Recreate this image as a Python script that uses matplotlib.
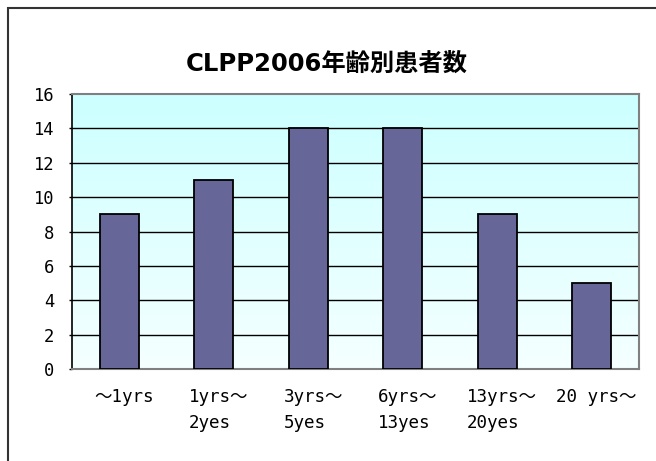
import numpy as np
import matplotlib
matplotlib.use("Agg")
import matplotlib.pyplot as plt
from matplotlib.patches import Rectangle
from matplotlib.colors import LinearSegmentedColormap
import matplotlib.transforms as mtransforms

plt.rcParams['font.family'] = ['DejaVu Sans Mono', 'Noto Sans CJK JP']

categories = ["〜1yrs", "1yrs〜\n2yes", "3yrs〜\n5yes", "6yrs〜\n13yes", "13yrs〜\n20yes", "20 yrs〜"]
values = [9, 11, 14, 14, 9, 5]
yticks = [0, 2, 4, 6, 8, 10, 12, 14, 16]
title = "CLPP2006年齢別患者数"

W, H = 656, 461
fig = plt.figure(figsize=(W / 100, H / 100), dpi=100)
fig.patch.set_facecolor("white")

# outer chart frame (extends beyond right/bottom edge)
fig.patches.append(Rectangle((7.5 / W, -0.1), 1.2, 1 - 7.5 / H + 0.1, transform=fig.transFigure,
                             fill=False, edgecolor="#333333", linewidth=1.5))

left, right, top, bottom = 72, 639, 94, 369
ax = fig.add_axes([left / W, 1 - bottom / H, (right - left) / W, (bottom - top) / H])

x = np.arange(len(categories))
ax.set_xlim(-0.5, len(categories) - 0.5)
ax.set_ylim(0, 16)

# gradient background
cmap = LinearSegmentedColormap.from_list("bg", ["#f5ffff", "#ccffff"])
grad = np.linspace(0, 1, 256).reshape(-1, 1)
ax.imshow(grad, aspect="auto", cmap=cmap, origin="lower",
          extent=(-0.5, len(categories) - 0.5, 0, 16), zorder=0)

for yv in yticks[1:-1]:
    ax.axhline(yv, color="black", linewidth=1.0, zorder=1)

ax.bar(x, values, width=0.41, color="#666699", edgecolor="black", linewidth=1.3, zorder=3)

ax.set_yticks(yticks)
ax.set_yticklabels([str(v) for v in yticks], fontsize=12.3)
ax.set_xticks(x)
ax.set_xticklabels(categories, fontsize=12.6, multialignment="left", linespacing=1.55, va="top")
ax.tick_params(axis="x", length=0, pad=14)
ax.tick_params(axis="y", length=2, pad=11, width=1)
offset = mtransforms.ScaledTranslation(5 / 100, 0, fig.dpi_scale_trans)
for lbl in ax.get_xticklabels():
    lbl.set_transform(lbl.get_transform() + offset)

for side in ["top", "right", "bottom"]:
    ax.spines[side].set_color("#808080")
    ax.spines[side].set_linewidth(1.5)
ax.spines["left"].set_color("black")
ax.spines["left"].set_linewidth(1.2)

fig.text(326.5 / W, 1 - 64 / H, title, ha="center", va="center", fontsize=17.5, fontweight="bold",
         family=['DejaVu Sans', 'Noto Sans CJK JP'])

fig.savefig("out.png", dpi=100)
